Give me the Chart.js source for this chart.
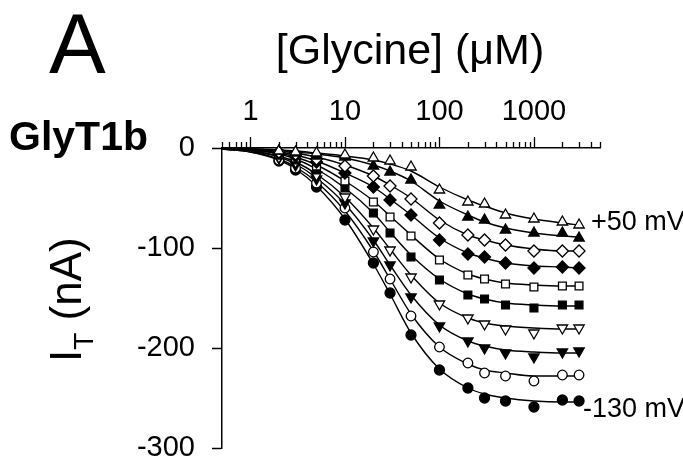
<!DOCTYPE html>
<html>
<head>
<meta charset="utf-8">
<script src="https://cdn.jsdelivr.net/npm/chart.js@4.4.1/dist/chart.umd.min.js"></script>
<style>
  html, body { margin: 0; padding: 0; background: #fff; }
  #wrap { width: 683px; height: 469px; }
</style>
</head>
<body>
<div id="wrap"><canvas id="chart" width="683" height="469"></canvas></div>
<script>
// glycine concentrations (uM) of the measured points
const concentrations = [2, 3, 5, 10, 20, 30, 50, 100, 200, 300, 500, 1000, 2000, 3000];
// concentrations where the fitted curves were read
const fitConcentrations = [0.5, 1, 2, 3, 5, 10, 20, 30, 50, 100, 200, 300, 500, 1000, 2000, 3000];

const voltageLabels = ["+50 mV", "+30 mV", "+10 mV", "-10 mV", "-30 mV", "-50 mV", "-70 mV", "-90 mV", "-110 mV", "-130 mV"];

// measured transport current I_T (nA), one array per holding potential
const pointsP50  = [-3, -4, -5, -7, -10, -13, -19, -42, -54, -56, -67, -71, -74, -77];
const pointsP30  = [-3, -5, -8, -9, -18, -24, -32, -57, -69, -72, -82, -85, -85, -90];
const pointsP10  = [-4, -6, -11, -18, -28, -38, -51, -75, -87, -92, -97, -103, -103, -103];
const pointsM10  = [-5, -8, -14, -25, -39, -52, -67, -92, -106, -109, -115, -120, -119, -120];
const pointsM30  = [-6, -10, -18, -33, -54, -69, -88, -112, -127, -131, -136, -139, -138, -138];
const pointsM50  = [-7, -12, -22, -40, -65, -85, -109, -132, -147, -151, -157, -160, -157, -157];
const pointsM70  = [-9, -14, -27, -49, -81, -102, -129, -156, -170, -176, -181, -185, -180, -180];
const pointsM90  = [-10, -17, -31, -55, -93, -117, -149, -178, -193, -200, -205, -209, -204, -203];
const pointsM110 = [-12, -20, -35, -60, -104, -131, -168, -199, -215, -225, -228, -233, -227, -227];
const pointsM130 = [-13, -22, -39, -72, -115, -145, -187, -222, -240, -250, -253, -259, -252, -253];

// fitted curves
const fitP50  = [0, -1, -2, -3, -5, -8, -12, -16, -23, -39, -52, -58, -65, -71, -75, -77];
const fitP30  = [0, -1, -2, -4, -6, -10, -17, -23, -33, -53, -67, -74, -80, -85, -88, -89];
const fitP10  = [0, -1, -3, -5, -9, -17, -28, -37, -50, -72, -87, -92, -97, -101, -103, -103];
const fitM10  = [0, -1, -4, -7, -13, -25, -39, -51, -67, -90, -105, -110, -115, -118, -119, -120];
const fitM30  = [0, -2, -5, -9, -17, -33, -53, -68, -87, -111, -126, -131, -135, -137, -138, -138];
const fitM50  = [0, -2, -6, -11, -21, -40, -65, -84, -107, -131, -146, -151, -155, -157, -158, -158];
const fitM70  = [-1, -3, -8, -14, -26, -49, -80, -101, -127, -155, -170, -175, -178, -180, -181, -181];
const fitM90  = [-1, -3, -9, -16, -30, -56, -92, -117, -147, -177, -193, -198, -202, -204, -205, -205];
const fitM110 = [-1, -4, -11, -19, -34, -63, -103, -131, -166, -199, -216, -222, -225, -228, -228, -228];
const fitM130 = [-1, -4, -12, -21, -38, -71, -116, -146, -185, -221, -240, -246, -250, -253, -254, -254];

const xMajorTicks = [1, 10, 100, 1000];
const yTicks = [0, -100, -200, -300];

const pointSeries = [pointsP50, pointsP30, pointsP10, pointsM10, pointsM30, pointsM50, pointsM70, pointsM90, pointsM110, pointsM130];
const fitSeries = [fitP50, fitP30, fitP10, fitM10, fitM30, fitM50, fitM70, fitM90, fitM110, fitM130];

// marker look per series: shape, filled, rotation, radius
const markerStyles = [
  { style: "triangle", filled: false, rot: 0,   r: 6 },
  { style: "triangle", filled: true,  rot: 0,   r: 6 },
  { style: "rectRot",  filled: false, rot: 0,   r: 6 },
  { style: "rectRot",  filled: true,  rot: 0,   r: 6 },
  { style: "rect",     filled: false, rot: 0,   r: 5.5 },
  { style: "rect",     filled: true,  rot: 0,   r: 5.5 },
  { style: "triangle", filled: false, rot: 180, r: 6 },
  { style: "triangle", filled: true,  rot: 180, r: 6 },
  { style: "circle",   filled: false, rot: 0,   r: 4.8 },
  { style: "circle",   filled: true,  rot: 0,   r: 5 }
];

const FONT = "'Liberation Sans', Arial, sans-serif";

const datasets = [];
fitSeries.forEach((vals, i) => {
  datasets.push({
    label: voltageLabels[i] + " fit",
    data: fitConcentrations.map((x, j) => ({ x: x, y: vals[j] })),
    showLine: true,
    borderColor: "#000",
    borderWidth: 1.4,
    pointRadius: 0,
    cubicInterpolationMode: "monotone",
    order: 2
  });
});
pointSeries.forEach((vals, i) => {
  const m = markerStyles[i];
  datasets.push({
    label: voltageLabels[i],
    data: concentrations.map((x, j) => ({ x: x, y: vals[j] })),
    showLine: false,
    pointStyle: m.style,
    pointRotation: m.rot,
    pointRadius: m.r,
    pointBorderWidth: 1.3,
    pointBorderColor: "#000",
    pointBackgroundColor: m.filled ? "#000" : "#fff",
    clip: false,
    order: 1
  });
});

// minor/major tick marks on the top log axis, drawn upward
const logTicksPlugin = {
  id: "logTicks",
  afterDraw(chart) {
    const ctx = chart.ctx;
    const xs = chart.scales.x;
    const y0 = xs.bottom;
    ctx.save();
    ctx.strokeStyle = "#000";
    ctx.lineWidth = 1.3;
    for (let e = -1; e <= 3; e++) {
      for (let m = 1; m <= 9; m++) {
        const v = m * Math.pow(10, e);
        if (v < xs.min - 1e-9 || v > xs.max + 1e-9) continue;
        const px = Math.round(xs.getPixelForValue(v)) + 0.5;
        const len = m === 1 ? 11 : 6;
        ctx.beginPath();
        ctx.moveTo(px, y0);
        ctx.lineTo(px, y0 - len);
        ctx.stroke();
      }
    }
    ctx.restore();
  }
};

const labelsPlugin = {
  id: "labels",
  afterDraw(chart) {
    const ctx = chart.ctx;
    ctx.save();
    ctx.fillStyle = "#000";
    ctx.textBaseline = "alphabetic";

    ctx.textAlign = "left";
    ctx.font = "85px " + FONT;
    ctx.fillText("A", 49, 73);

    ctx.textAlign = "center";
    ctx.font = "43px " + FONT;
    ctx.fillText("[Glycine] (\u03BCM)", 410, 64);

    ctx.textAlign = "left";
    ctx.font = "bold 41px " + FONT;
    ctx.fillText("GlyT1b", 9, 150);

    ctx.font = "27px " + FONT;
    ctx.fillText("+50 mV", 591, 230);
    ctx.fillText("-130 mV", 583, 417);

    // y title: I_T (nA), rotated
    ctx.translate(81, 362);
    ctx.rotate(-Math.PI / 2);
    ctx.font = "44px " + FONT;
    ctx.fillText("I", 0, 0);
    const wI = ctx.measureText("I").width;
    ctx.font = "28px " + FONT;
    ctx.fillText("T", wI, 12);
    const wT = ctx.measureText("T").width;
    ctx.font = "44px " + FONT;
    ctx.fillText(" (nA)", wI + wT, 0);
    ctx.restore();
  }
};

new Chart(document.getElementById("chart"), {
  type: "scatter",
  data: { datasets: datasets },
  plugins: [logTicksPlugin, labelsPlugin],
  options: {
    responsive: false,
    animation: false,
    layout: { padding: { left: 0, top: 0, right: 83, bottom: 21 } },
    plugins: { legend: { display: false }, tooltip: { enabled: false } },
    scales: {
      x: {
        type: "logarithmic",
        position: "top",
        min: 0.5,
        max: 5000,
        afterFit: (s) => { s.height = 148; s.paddingLeft = 0; s.paddingRight = 0; },
        border: { display: true, color: "#000", width: 1.5 },
        grid: { drawOnChartArea: false, tickLength: 11, tickColor: "rgba(0,0,0,0)" },
        ticks: {
          autoSkip: false,
          maxRotation: 0,
          padding: 8,
          color: "#000",
          font: { family: FONT, size: 29 },
          callback: (v) => xMajorTicks.find(t => Math.abs(t - v) < 1e-6) !== undefined ? String(Math.round(v)) : ""
        }
      },
      y: {
        type: "linear",
        min: -300,
        max: 0,
        afterFit: (s) => { s.width = 222; s.paddingTop = 0; s.paddingBottom = 0; },
        afterBuildTicks: (s) => { s.ticks = yTicks.map(v => ({ value: v })); },
        border: { display: true, color: "#000", width: 1.5 },
        grid: { drawOnChartArea: false, tickLength: 10, tickColor: "#000", tickWidth: 1.5 },
        ticks: {
          padding: 17,
          color: "#000",
          font: { family: FONT, size: 29 },
          callback: (v) => String(v)
        }
      }
    }
  }
});
</script>
</body>
</html>
